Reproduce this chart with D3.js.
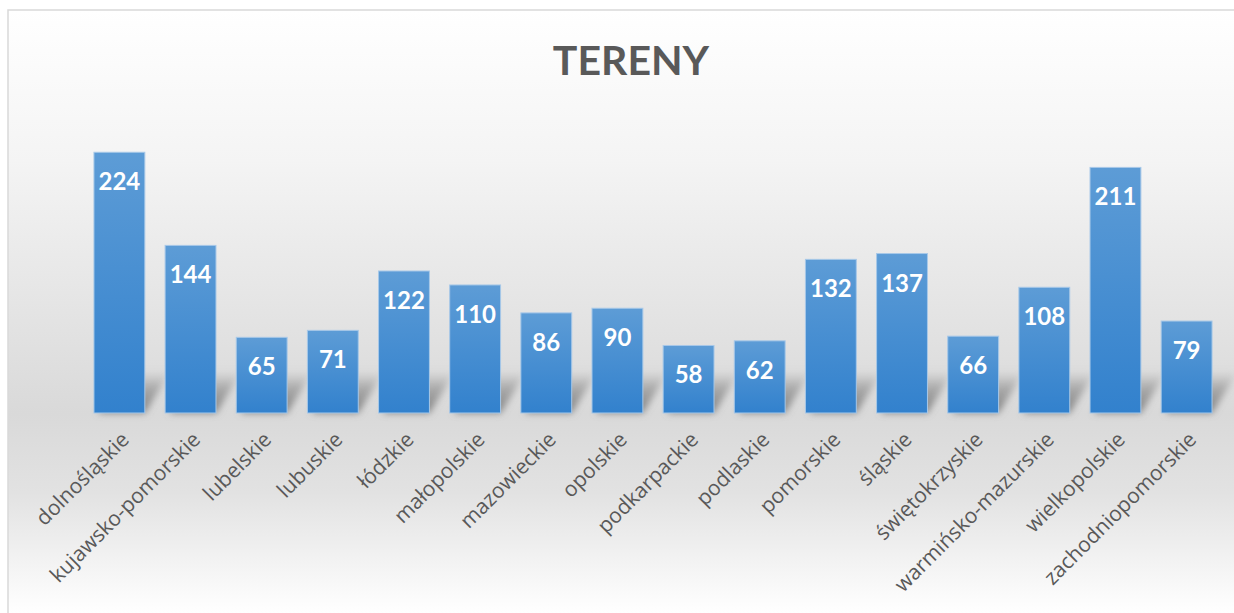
<!DOCTYPE html>
<html><head><meta charset="utf-8">
<script src="https://cdn.jsdelivr.net/npm/d3@7/dist/d3.min.js"></script>
<style>html,body{margin:0;padding:0;background:#fff;overflow:hidden}</style>
</head><body><svg id="c" width="1234" height="613"></svg>
<script>
const categories = ["dolnośląskie","kujawsko-pomorskie","lubelskie","lubuskie","łódzkie","małopolskie","mazowieckie","opolskie","podkarpackie","podlaskie","pomorskie","śląskie","świętokrzyskie","warmińsko-mazurskie","wielkopolskie","zachodniopomorskie"];
const values = [224,144,65,71,122,110,86,90,58,62,132,137,66,108,211,79];
const title = "TERENY";

const W = 1234, H = 613;
const svg = d3.select("#c");
const defs = svg.append("defs");

const bg = defs.append("linearGradient").attr("id","bg").attr("gradientUnits","userSpaceOnUse")
  .attr("x1",0).attr("y1",10).attr("x2",0).attr("y2",613);
[[0,"#ffffff"],[0.25,"#f4f4f4"],[0.5,"#e4e4e4"],[0.67,"#d9d9d9"],[0.8,"#e2e2e2"],[1,"#ffffff"]]
  .forEach(([o,c])=>bg.append("stop").attr("offset",o).attr("stop-color",c));

const bar = defs.append("linearGradient").attr("id","bar").attr("x1",0).attr("y1",0).attr("x2",0).attr("y2",1);
bar.append("stop").attr("offset",0).attr("stop-color","#5d9cd6");
bar.append("stop").attr("offset",1).attr("stop-color","#3281cd");

const sh = defs.append("linearGradient").attr("id","sh").attr("x1",0).attr("y1",1).attr("x2",0).attr("y2",0);
sh.append("stop").attr("offset",0).attr("stop-color","#7a7a7a").attr("stop-opacity",0.95);
sh.append("stop").attr("offset",0.6).attr("stop-color","#8a8a8a").attr("stop-opacity",0.6);
sh.append("stop").attr("offset",1).attr("stop-color","#9a9a9a").attr("stop-opacity",0);
defs.append("filter").attr("id","blur").attr("x","-50%").attr("y","-50%").attr("width","200%").attr("height","200%")
  .append("feGaussianBlur").attr("stdDeviation",3.5);

svg.append("rect").attr("x",8).attr("y",10).attr("width",1240).attr("height",620)
  .attr("fill","url(#bg)").attr("stroke","#d9d9d9").attr("stroke-width",1.5);

svg.append("text").attr("x",631).attr("y",75).attr("text-anchor","middle")
  .attr("font-family","Lato, 'Open Sans', sans-serif").attr("font-weight","bold")
  .attr("font-size",41).attr("fill","#595959").text(title);

const x = d3.scaleBand().domain(categories).range([84,1222]).paddingInner(0.285).paddingOuter(0.14);
const y = d3.scaleLinear().domain([0,250]).range([413,122]);

const g = svg.append("g");
g.selectAll("path.sh").data(values).join("path").attr("class","sh")
  .attr("d",(d,i)=>{
    const x0 = x(categories[i]), x1 = x0 + x.bandwidth(), b = y(0);
    const h = Math.min(42, y(0)-y(d));
    return `M${x0+4},${b} L${x1},${b} L${x1+26},${b-h} L${x0+30},${b-h} Z`;
  })
  .attr("fill","url(#sh)").attr("filter","url(#blur)");

g.selectAll("rect.bar").data(values).join("rect").attr("class","bar")
  .attr("x",(d,i)=>x(categories[i])).attr("y",d=>y(d))
  .attr("width",x.bandwidth()).attr("height",d=>y(0)-y(d))
  .attr("fill","url(#bar)").attr("stroke","#a7c8e8").attr("stroke-width",1);

g.selectAll("text.v").data(values).join("text").attr("class","v")
  .attr("x",(d,i)=>x(categories[i])+x.bandwidth()/2).attr("y",d=>y(d)+38)
  .attr("text-anchor","middle").attr("font-family","Lato, sans-serif").attr("font-weight","bold")
  .attr("font-size",24).attr("fill","#ffffff").text(d=>d);

const xa = svg.append("g").attr("transform",`translate(0,${y(0)})`)
  .call(d3.axisBottom(x).tickSize(0).tickPadding(0));
xa.attr("font-family",null).attr("font-size",null);
xa.select(".domain").remove();
xa.selectAll("text").style("font-family","'Open Sans', sans-serif").style("font-size","21px")
  .attr("fill","#595959").attr("text-anchor","end")
  .attr("dy",null).attr("y",0).attr("x",0)
  .attr("transform","translate(11,28) rotate(-45)");
</script></body></html>
